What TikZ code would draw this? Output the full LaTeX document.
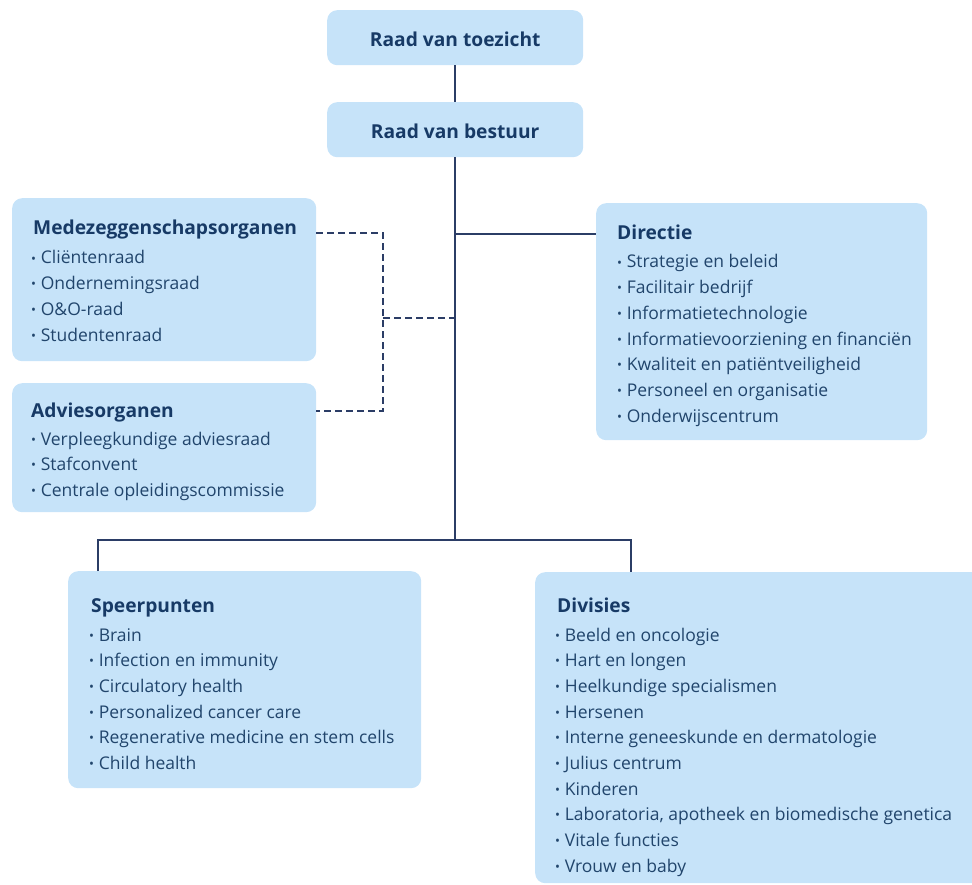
\documentclass[tikz,border=0pt]{standalone}
\usepackage{fontspec}
\usetikzlibrary{calc}
\setmainfont{Open Sans}
\definecolor{boxfill}{HTML}{C6E3F9}
\definecolor{titlecol}{HTML}{173A66}
\definecolor{itemcol}{HTML}{21456C}
\definecolor{linecol}{HTML}{2B3D66}
\tikzset{
  box/.style={draw=none, fill=boxfill, rounded corners=10pt, anchor=north west, inner sep=0pt},
  ttl/.style={anchor=base west, inner sep=0pt, text=titlecol, font=\fontsize{19.2}{22}\selectfont\bfseries},
  ctr/.style={anchor=center, inner sep=0pt, yshift=-1.5pt, text=titlecol, font=\fontsize{19.2}{22}\selectfont\bfseries},
  itm/.style={anchor=base west, inner sep=0pt, text=itemcol, font=\fontsize{17.5}{20}\selectfont},
  conn/.style={draw=linecol, line width=2pt},
  dconn/.style={draw=linecol, line width=2.2pt, dash pattern=on 6.5pt off 4.5pt},
}
\newcommand{\bul}{\raisebox{0.1ex}{\scalebox{0.75}{•}}\hspace{0.27em}}
\begin{document}
\begin{tikzpicture}[x=1pt,y=-1pt]
\useasboundingbox (0,0) rectangle (972,885);
% boxes
\node[box, minimum width=256pt, minimum height=55pt] (rvt) at (327,10) {};
\node[box, minimum width=256pt, minimum height=55pt] (rvb) at (327,102) {};
\node[box, minimum width=331pt, minimum height=237pt] (dir) at (596,203) {};
\node[box, minimum width=304pt, minimum height=163pt] (mede) at (12,198) {};
\node[box, minimum width=304pt, minimum height=129pt] (adv) at (12,383) {};
\node[box, minimum width=353pt, minimum height=217pt] (spe) at (68,571) {};
\node[box, minimum width=460pt, minimum height=311pt] (div) at (535,572) {};
% centered titles
\node[ctr] (trvt) at (rvt.center) {Raad van toezicht};
\node[ctr] (trvb) at (rvb.center) {Raad van bestuur};
% Directie
\node[ttl] (tdir) at (617,240) {Directie};
\foreach [count=\i] \t in {Strategie en beleid, Facilitair bedrijf, Informatietechnologie, Informatievoorziening en financiën, Kwaliteit en patiëntveiligheid, Personeel en organisatie, Onderwijscentrum}
  \node[itm] (dir\i) at (617,{268+(\i-1)*25.7}) {\bul\t};
% Medezeggenschap
\node[ttl] (tmede) at (33,235) {Medezeggenschapsorganen};
\foreach [count=\i] \t in {Cliëntenraad, Ondernemingsraad, O\&O-raad, Studentenraad}
  \node[itm] (mede\i) at (31,{264+(\i-1)*25.7}) {\bul\t};
% Advies
\node[ttl] (tadv) at (31,417) {Adviesorganen};
\foreach [count=\i] \t in {Verpleegkundige adviesraad, Stafconvent, Centrale opleidingscommissie}
  \node[itm] (adv\i) at (31,{445+(\i-1)*25.7}) {\bul\t};
% Speerpunten
\node[ttl] (tspe) at (91,612) {Speerpunten};
\foreach [count=\i] \t in {Brain, Infection en immunity, Circulatory health, Personalized cancer care, Regenerative medicine en stem cells, Child health}
  \node[itm] (spe\i) at (89,{641+(\i-1)*25.7}) {\bul\t};
% Divisies
\node[ttl] (tdiv) at (557,612) {Divisies};
\foreach [count=\i] \t in {Beeld en oncologie, Hart en longen, Heelkundige specialismen, Hersenen, Interne geneeskunde en dermatologie, Julius centrum, Kinderen, {Laboratoria, apotheek en biomedische genetica}, Vitale functies, Vrouw en baby}
  \node[itm] (div\i) at (555,{641+(\i-1)*25.7}) {\bul\t};
% connectors
\coordinate (jd) at ($(rvb.south)+(0,77)$);
\coordinate (jb) at ($(rvb.south)+(0,383)$);
\coordinate (bl) at (98,540);
\coordinate (br) at (631,540);
\coordinate (dl) at (383,233);
\coordinate (dm) at (383,318);
\coordinate (da) at (383,411);
\draw[conn] (rvt.south) -- (rvb.north);
\draw[conn] (rvb.south) -- (jb);
\draw[conn] (jd) -- (jd -| dir.west);
\draw[conn] (bl |- spe.north) -- (bl) -- (br) -- (br |- div.north);
\draw[dconn] (dl -| mede.east) -- (dl) -- (da) -- (da -| adv.east);
\draw[dconn] (dm) -- (dm -| jd);
\end{tikzpicture}
\end{document}
